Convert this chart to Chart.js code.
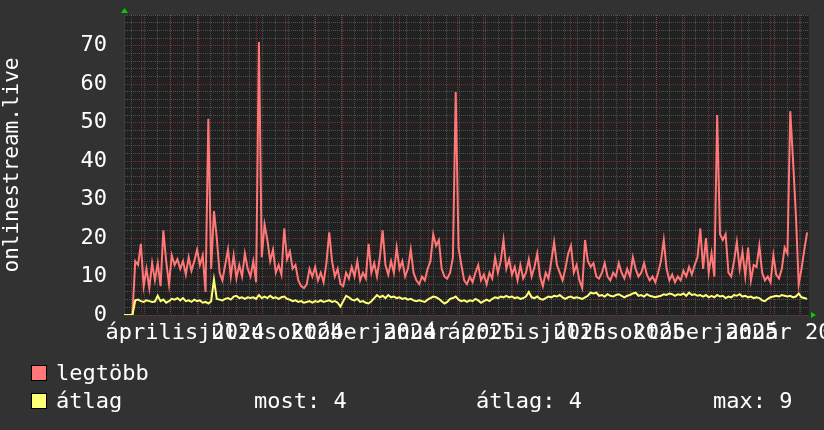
<!DOCTYPE html>
<html lang="hu">
<head>
<meta charset="utf-8">
<title>onlinestream.live</title>
<script src="https://cdn.jsdelivr.net/npm/chart.js"></script>
<style>
  html, body { margin: 0; padding: 0; background: #323232; }
  #doboz { position: relative; width: 824px; height: 430px; }
  canvas { position: absolute; left: 0; top: 0; }
  .jel { position: absolute; width: 14px; height: 14px; border: 1px solid #000; }
  .szoveg { position: absolute; font: 22px "DejaVu Sans Mono", monospace; line-height: 22px; color: #fff; white-space: pre; }
</style>
</head>
<body>
<div id="doboz">
  <canvas id="grafikon" width="824" height="430"></canvas>
  <div class="jel" style="left:31px;top:365px;background:#ff7777"></div>
  <div class="szoveg" style="left:56px;top:362px">legtöbb</div>
  <div class="jel" style="left:31px;top:393px;background:#ffff77"></div>
  <div class="szoveg" style="left:56px;top:390px">átlag</div>
  <div class="szoveg" style="left:254px;top:390px">most: 4</div>
  <div class="szoveg" style="left:476px;top:390px">átlag: 4</div>
  <div class="szoveg" style="left:713px;top:390px">max: 9</div>
</div>
<script>
// napok 2024-01-01 ota, 3 naponkent egy ertek
const kezdoNap = 41;
const lepesNap = 3;

const legtobb = [
  0, 0, 0, 0, 14, 13, 18.5, 7.5, 12, 7,
  13.5, 9, 13.5, 7.5, 22, 14, 8, 15.5, 13, 14.5,
  12, 14, 10.5, 15, 11.5, 14, 17, 13, 15.5, 6,
  51, 12, 27, 20, 11, 9, 13, 17, 10, 15.5,
  9.5, 13, 10, 16, 12, 10, 14, 8.5, 71, 15,
  23.5, 19.5, 14, 17, 11, 13, 10.5, 22.5, 14.5, 16.5,
  12, 13, 9, 7.5, 7, 8, 12, 10, 12.5, 9,
  11, 8.5, 13.5, 21.5, 14, 10, 12, 8, 7.5, 11,
  9.5, 12.5, 10, 14, 9, 11, 9.5, 18.5, 11, 13.5,
  10, 15, 22, 13, 10.5, 14, 11, 17.5, 12, 14,
  10, 12, 17, 11, 9, 8, 10, 9, 12, 14,
  21, 18, 19.5, 12, 10, 9.5, 11, 15, 58, 17.5,
  13, 9, 8, 10, 8.5, 11, 13, 9, 10.5, 8,
  11, 9.5, 15, 11, 14, 19.5, 12, 14.5, 10.5, 12.5,
  9, 13, 9.5, 11, 14.5, 10, 12.5, 16, 10, 7.5,
  11, 9.5, 14, 19, 13, 11, 9, 12, 16, 18,
  11, 13, 9, 7, 19.5, 14, 12.5, 13.5, 10, 9.5,
  11, 13.5, 10, 9, 11, 10, 13.5, 11, 9.5, 12,
  10, 15, 12, 10, 11, 13.5, 10.5, 9, 10, 8.5,
  11, 14, 19.5, 12, 9, 10.5, 8.5, 10, 9, 11.5,
  10, 12.5, 10.5, 13, 15, 22.5, 12, 20, 11, 16,
  10, 52, 21, 19.5, 21, 11, 10, 14, 19, 12,
  16.5, 10, 17.5, 9, 13, 12.5, 18, 11, 9, 10,
  8.5, 15.5, 10.5, 9.5, 12, 17.5, 16, 53, 40, 26,
  8, 12, 17, 21.5
];

const atlag = [
  0, 0, 0, 0, 3.8, 4.0, 3.6, 3.4, 3.8, 3.6,
  3.4, 3.5, 5.0, 3.6, 4.0, 3.2, 3.6, 4.2, 4.0, 4.4,
  3.8, 4.4, 3.6, 3.8, 3.4, 4.0, 3.6, 3.8, 3.2, 3.4,
  3.0, 3.6, 9.2, 4.2, 4.0, 3.8, 4.2, 4.4, 4.0, 4.8,
  5.0, 4.4, 4.6, 4.2, 4.6, 4.4, 4.6, 4.2, 5.2, 4.4,
  4.8, 4.4, 5.0, 4.4, 4.6, 4.2, 4.6, 4.8, 4.2, 4.0,
  3.6, 3.8, 3.4, 3.6, 3.2, 3.4, 3.6, 3.2, 3.6, 3.4,
  3.8, 3.4, 3.6, 3.8, 3.4, 3.6, 3.2, 2.2, 3.6, 5.0,
  4.6, 4.0, 3.8, 4.2, 3.4, 3.6, 3.2, 3.0, 3.6, 4.4,
  5.2, 4.6, 5.0, 4.4, 5.2, 4.6, 4.8, 4.4, 4.6, 4.2,
  4.4, 4.0, 4.2, 3.8, 3.6, 3.8, 3.6, 3.4, 4.0, 4.4,
  4.8, 4.6, 4.2, 3.6, 3.0, 3.4, 4.2, 4.4, 4.8, 4.0,
  3.6, 3.8, 3.4, 3.8, 3.6, 4.2, 3.8, 3.2, 3.6, 4.0,
  3.6, 4.2, 4.6, 4.4, 4.8, 4.6, 5.0, 4.6, 4.8, 4.4,
  4.6, 4.2, 4.4, 4.8, 6.0, 4.6, 4.4, 4.8, 4.2, 4.0,
  4.4, 4.8, 4.6, 5.0, 4.8, 5.2, 4.6, 4.2, 4.6, 4.8,
  4.4, 4.6, 4.4, 4.2, 4.6, 5.0, 5.8, 5.6, 5.8, 5.0,
  5.2, 4.8, 5.4, 5.0, 4.8, 5.2, 5.4, 5.0, 4.6, 5.0,
  5.2, 5.6, 5.8, 5.0, 5.2, 4.8, 5.4, 5.0, 4.8, 4.6,
  4.8, 5.0, 5.4, 5.2, 5.6, 5.4, 5.0, 5.4, 5.2, 5.6,
  5.0, 5.8, 5.2, 5.4, 5.0, 5.2, 4.8, 5.2, 4.6, 5.0,
  4.6, 5.2, 4.8, 5.0, 4.4, 4.8, 4.6, 5.2, 5.0, 5.4,
  4.8, 5.0, 4.6, 4.8, 4.4, 4.6, 4.4, 3.8, 3.6, 4.2,
  4.6, 4.8, 5.0, 4.8, 5.2, 5.0, 4.8, 5.0, 4.6, 4.8,
  5.6, 4.6, 4.4, 4.2
];

// honapok elso napja (piros racs)
const honapKezdet = [60, 91, 121, 152, 182, 213, 244, 274, 305, 335,
  366, 397, 425, 456, 486, 517, 547, 578, 609, 639, 670, 700, 731, 762];
// cimkek a negyedevek kozepen
const cimkeNapok = [106, 197.5, 289.5, 381.5, 471, 562.5, 654.5, 746.5];
const cimkek = ['április 2024', 'július 2024', 'október 2024', 'január 2025',
  'április 2025', 'július 2025', 'október 2025', 'január 2026'];

const minNap = 41;
const maxNap = 772;
const betu = '"DejaVu Sans Mono", monospace';

function pontok(ertekek) {
  return ertekek.map((v, i) => ({ x: kezdoNap + i * lepesNap, y: v }));
}

const hatter = {
  id: 'hatter',
  beforeDraw(chart) {
    const { ctx, chartArea: a } = chart;
    ctx.save();
    ctx.fillStyle = '#323232';
    ctx.fillRect(0, 0, chart.width, chart.height);
    ctx.fillStyle = '#212121';
    ctx.fillRect(a.left, a.top, a.right - a.left, a.bottom - a.top);
    ctx.restore();
  },
  afterDraw(chart) {
    const { ctx, chartArea: a } = chart;
    ctx.save();
    ctx.fillStyle = '#00cc00';
    ctx.beginPath();
    ctx.moveTo(a.left - 3, a.top - 2);
    ctx.lineTo(a.left + 4, a.top - 2);
    ctx.lineTo(a.left + 0.5, a.top - 7);
    ctx.fill();
    ctx.beginPath();
    ctx.moveTo(a.right + 2, a.bottom - 3);
    ctx.lineTo(a.right + 2, a.bottom + 3);
    ctx.lineTo(a.right + 7, a.bottom);
    ctx.fill();
    ctx.restore();
  }
};

function nullaMagas(scale) {
  scale.height = 0;
  scale.paddingLeft = 0;
  scale.paddingRight = 0;
}

const ctx = document.getElementById('grafikon');

new Chart(ctx, {
  type: 'line',
  data: {
    datasets: [{
      label: 'legtöbb',
      data: pontok(legtobb),
      borderColor: '#ff7777',
      borderWidth: 2,
      pointRadius: 0,
      tension: 0,
      order: 1
    }, {
      label: 'átlag',
      data: pontok(atlag),
      borderColor: '#ffff77',
      borderWidth: 2,
      pointRadius: 0,
      tension: 0,
      order: 0
    }]
  },
  options: {
    responsive: false,
    animation: false,
    devicePixelRatio: 1,
    layout: { padding: { left: 0, right: 15, top: 15, bottom: 75 } },
    plugins: {
      legend: { display: false },
      tooltip: { enabled: false }
    },
    scales: {
      xHet: {
        type: 'linear', axis: 'x', position: 'bottom', min: minNap, max: maxNap,
        afterBuildTicks: (scale) => {
          const t = [];
          for (let d = 49; d <= maxNap; d += 14) t.push({ value: d });
          scale.ticks = t;
        },
        afterFit: nullaMagas,
        ticks: { display: false, autoSkip: false },
        grid: { color: 'rgba(120,120,120,0.55)', drawTicks: false },
        border: { display: false, dash: [1, 1] }
      },
      xHonap: {
        type: 'linear', axis: 'x', position: 'bottom', min: minNap, max: maxNap,
        afterBuildTicks: (scale) => {
          scale.ticks = honapKezdet.map(v => ({ value: v }));
        },
        afterFit: nullaMagas,
        ticks: { display: false, autoSkip: false },
        grid: { color: 'rgba(190,60,60,0.55)', drawTicks: false },
        border: { display: false, dash: [1, 1] }
      },
      x: {
        type: 'linear', position: 'bottom', min: minNap, max: maxNap,
        afterBuildTicks: (scale) => {
          scale.ticks = cimkeNapok.map(v => ({ value: v }));
        },
        afterFit: (scale) => {
          scale.height = 40;
          scale.paddingLeft = 0;
          scale.paddingRight = 0;
        },
        ticks: {
          autoSkip: false, maxRotation: 0, minRotation: 0, padding: 5,
          color: '#ffffff', font: { family: betu, size: 22 },
          callback: (v, i) => cimkek[i]
        },
        grid: { display: false, drawTicks: false },
        border: { display: false }
      },
      y: {
        min: 0, max: 78,
        afterBuildTicks: (scale) => {
          const t = [];
          for (let v = 0; v <= 78; v += 2) t.push({ value: v });
          scale.ticks = t;
        },
        afterFit: (scale) => {
          scale.width = 124;
          scale.paddingTop = 0;
          scale.paddingBottom = 0;
        },
        ticks: {
          autoSkip: false, padding: 17, color: '#ffffff',
          font: { family: betu, size: 22 },
          callback: (v) => (v % 10 === 0 ? v : '')
        },
        grid: {
          drawTicks: false,
          color: (c) => (c.tick && c.tick.value % 10 === 0 ? 'rgba(190,60,60,0.55)' : 'rgba(120,120,120,0.55)')
        },
        border: { display: true, color: '#3c3c3c', dash: [1, 1] },
        title: {
          display: true, text: 'onlinestream.live', color: '#ffffff',
          font: { family: betu, size: 21 }, padding: { top: 0, bottom: 0 }
        }
      }
    }
  },
  plugins: [hatter]
});
</script>
</body>
</html>
